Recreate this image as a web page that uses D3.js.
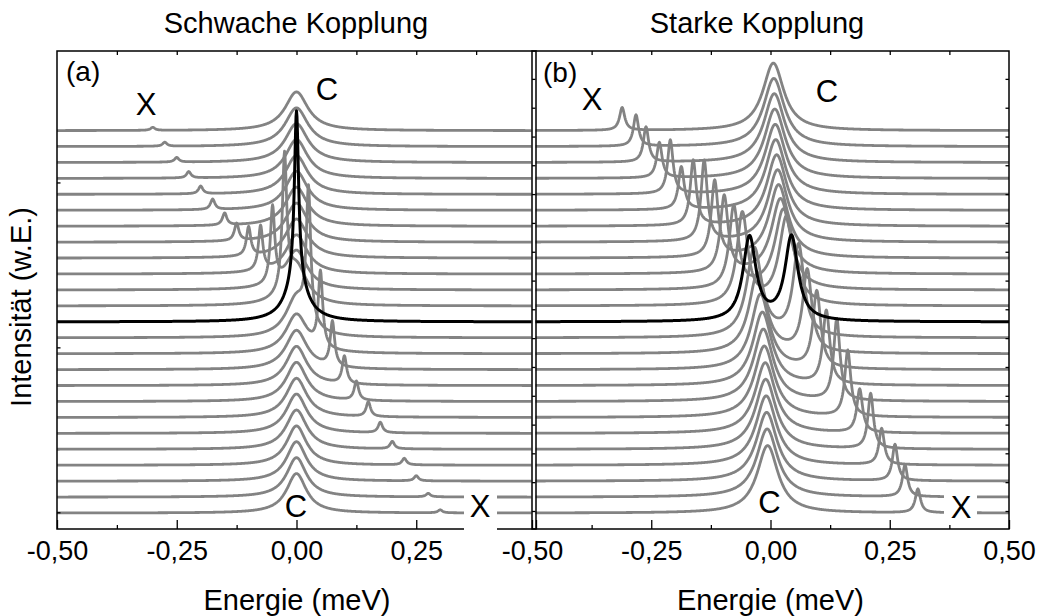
<!DOCTYPE html>
<html><head><meta charset="utf-8">
<script src="https://cdn.jsdelivr.net/npm/d3@7"></script>
<style>
body{margin:0;background:#fff}
svg{display:block}
text{font-family:Arial,"Liberation Sans",sans-serif;fill:#000}
</style>
</head><body>
<svg id="c" width="1041" height="616"></svg>
<script>
// ---------------- data ----------------
const energyMajor = [-0.5, -0.25, 0, 0.25, 0.5];
const energyMinor = [-0.375, -0.125, 0.125, 0.375];
const energyTop = [-0.375, -0.25, -0.125, 0, 0.125, 0.25, 0.375];
const tickLabelsA = ["-0,50", "-0,25", "0,00", "0,25", ""];
const tickLabelsB = ["-0,50", "-0,25", "0,00", "0,25", "0,50"];
const yTicksA = [0.05, 10.4, 20.75];
const yTicksB = [0.13, 1.94, 3.75, 5.55, 7.36, 9.17, 10.98, 12.79, 14.59, 16.4, 18.21, 20.02, 21.83, 23.63, 25.44, 27.25];

// spectra are listed from the top trace (index 0) to the bottom trace (index 24)
const blackIndex = 12;

// (a) weak coupling: exciton line X and cavity line C
const weakXPos = [-0.300,-0.275,-0.250,-0.225,-0.200,-0.175,-0.150,-0.125,-0.100,-0.075,-0.050,-0.025,0.000,0.025,0.050,0.075,0.100,0.125,0.150,0.175,0.200,0.225,0.250,0.275,0.300];
const weakXAmp = [0.19,0.25,0.29,0.40,0.48,0.65,0.76,1.09,1.82,2.80,4.80,8.40,10.80,8.30,4.70,2.80,1.72,1.19,0.92,0.65,0.46,0.41,0.32,0.22,0.19];
const weakXWidth = [0.0055,0.0055,0.0055,0.0055,0.0055,0.0055,0.0055,0.0055,0.0055,0.0055,0.0055,0.0055,0.0053,0.0055,0.0055,0.0055,0.0055,0.0055,0.0055,0.0055,0.0055,0.0055,0.0055,0.0055,0.0055];
const weakCPos = [0,0,0,0,0,0,0,0,0,0,0,0,0,0,0,0,0,0,0,0,0,0,0,0,0];
const weakCAmp = [2.43,2.43,2.44,2.44,2.44,2.45,2.45,2.45,2.45,2.45,2.45,2.45,2.45,2.45,2.45,2.46,2.46,2.46,2.46,2.47,2.47,2.47,2.48,2.48,2.48];
const weakCWidth = [0.029,0.029,0.029,0.028,0.028,0.028,0.028,0.028,0.028,0.027,0.027,0.027,0.027,0.027,0.027,0.027,0.026,0.026,0.026,0.026,0.026,0.025,0.025,0.025,0.025];

// (b) strong coupling: lower (LP) and upper (UP) polariton, peak heights
const strongLPPos = [-0.311,-0.282,-0.261,-0.233,-0.210,-0.187,-0.162,-0.139,-0.117,-0.097,-0.077,-0.059,-0.044,-0.034,-0.027,-0.021,-0.017,-0.015,-0.013,-0.011,-0.010,-0.009,-0.008,-0.007,-0.006];
const strongLPHeight = [1.46,2.00,2.25,2.28,3.43,2.76,4.17,5.17,4.92,4.98,5.35,5.93,5.43,5.70,5.10,4.75,4.62,4.55,4.49,4.44,4.40,4.36,4.32,4.28,4.24];
const strongLPWidth = [0.0065,0.0065,0.0066,0.0068,0.0069,0.0072,0.0075,0.0079,0.0087,0.0098,0.0114,0.0137,0.0165,0.0193,0.0216,0.0232,0.0243,0.0250,0.0255,0.0258,0.0261,0.0262,0.0264,0.0265,0.0266];
const strongUPPos = [0.006,0.007,0.008,0.009,0.010,0.011,0.013,0.015,0.017,0.021,0.027,0.034,0.044,0.059,0.077,0.097,0.117,0.139,0.162,0.187,0.210,0.233,0.261,0.282,0.309];
const strongUPHeight = [4.24,4.28,4.32,4.36,4.40,4.44,4.49,4.55,4.62,4.75,5.10,5.70,5.46,5.93,5.35,4.98,4.75,5.22,4.24,2.80,3.52,2.32,2.32,2.03,1.52];
const strongUPWidth = [0.0266,0.0265,0.0264,0.0262,0.0261,0.0258,0.0255,0.0250,0.0243,0.0232,0.0216,0.0193,0.0165,0.0137,0.0114,0.0098,0.0087,0.0079,0.0075,0.0072,0.0069,0.0068,0.0066,0.0065,0.0065];

// ---------------- drawing ----------------
const svg = d3.select("#c");
const plotTop = 51, plotBottom = 529;
const y = d3.scaleLinear().domain([-1, 29]).range([plotBottom, plotTop]);
const xA = d3.scaleLinear().domain([-0.5, 0.5]).range([57, 536]);
const xB = d3.scaleLinear().domain([-0.5, 0.5]).range([532, 1009]);

const lor = (e, p, w) => (w * w) / ((e - p) * (e - p) + w * w);

function buildSpectrum(peaks) {
  const grid = d3.range(-0.5, 0.50001, 0.001).concat(peaks.map(p => p.p)).sort((a, b) => a - b);
  return grid.map(e => [e, d3.sum(peaks, p => p.a * lor(e, p.p, p.w))]);
}

const defs = svg.append("defs");
defs.append("clipPath").attr("id", "clipA").append("rect")
  .attr("x", 57).attr("y", plotTop).attr("width", 531.5 - 57).attr("height", plotBottom - plotTop);
defs.append("clipPath").attr("id", "clipB").append("rect")
  .attr("x", 535.5).attr("y", plotTop).attr("width", 1009 - 535.5).attr("height", plotBottom - plotTop);

function drawPanel(xs, clipId, spectra) {
  const g = svg.append("g").attr("clip-path", `url(#${clipId})`);
  const order = d3.range(spectra.length).filter(i => i !== blackIndex).concat([blackIndex]);
  order.forEach(i => {
    const off = spectra.length - 1 - i;
    const line = d3.line().x(d => xs(d[0])).y(d => y(off + d[1]));
    g.append("path")
      .attr("d", line(spectra[i]))
      .attr("fill", "none")
      .attr("stroke", i === blackIndex ? "#000" : "#838383")
      .attr("stroke-width", i === blackIndex ? 3 : 2.8)
      .attr("stroke-linejoin", "round");
  });
}

const weakSpectra = weakXPos.map((p, i) => buildSpectrum([
  { p: p, a: weakXAmp[i], w: weakXWidth[i] },
  { p: weakCPos[i], a: weakCAmp[i], w: weakCWidth[i] }
]));

const strongSpectra = strongLPPos.map((p1, i) => {
  const p2 = strongUPPos[i], w1 = strongLPWidth[i], w2 = strongUPWidth[i];
  const h1 = strongLPHeight[i], h2 = strongUPHeight[i];
  const a12 = lor(p1, p2, w2), a21 = lor(p2, p1, w1);
  const det = 1 - a12 * a21;
  const A1 = (h1 - a12 * h2) / det, A2 = (h2 - a21 * h1) / det;
  return buildSpectrum([{ p: p1, a: A1, w: w1 }, { p: p2, a: A2, w: w2 }]);
});

drawPanel(xA, "clipA", weakSpectra);
drawPanel(xB, "clipB", strongSpectra);

function frame(xs) {
  svg.append("rect").attr("x", xs.range()[0]).attr("y", plotTop)
    .attr("width", xs.range()[1] - xs.range()[0]).attr("height", plotBottom - plotTop)
    .attr("fill", "none").attr("stroke", "#000").attr("stroke-width", 1.5);
}
frame(xA);
frame(xB);

function axes(xs, labels, yTicks, rightTicks) {
  const major = svg.append("g").attr("transform", `translate(0,${plotBottom})`)
    .call(d3.axisBottom(xs).tickValues(energyMajor).tickSizeInner(-9).tickSizeOuter(0)
      .tickPadding(12).tickFormat((d, i) => labels[i]));
  const minor = svg.append("g").attr("transform", `translate(0,${plotBottom})`)
    .call(d3.axisBottom(xs).tickValues(energyMinor).tickSizeInner(-4).tickSizeOuter(0).tickFormat(""));
  const topAx = svg.append("g").attr("transform", `translate(0,${plotTop})`)
    .call(d3.axisTop(xs).tickValues(energyTop).tickSizeInner(-4).tickSizeOuter(0).tickFormat(""));
  const yl = svg.append("g").attr("transform", `translate(${xs.range()[0]},0)`)
    .call(d3.axisLeft(y).tickValues(yTicks).tickSizeInner(-3.5).tickSizeOuter(0).tickFormat(""));
  const groups = [major, minor, topAx, yl];
  if (rightTicks) {
    groups.push(svg.append("g").attr("transform", `translate(${xs.range()[1]},0)`)
      .call(d3.axisRight(y).tickValues(yTicks).tickSizeInner(-3.5).tickSizeOuter(0).tickFormat("")));
  }
  groups.forEach(gg => {
    gg.select(".domain").remove();
    gg.selectAll("line").attr("stroke", "#000").attr("stroke-width", 1.3);
    gg.selectAll("text").attr("font-size", 27).attr("font-family", "Arial, 'Liberation Sans', sans-serif").attr("fill", "#000");
  });
}
axes(xA, tickLabelsA, yTicksA, false);
axes(xB, tickLabelsB, yTicksB, true);

svg.append("rect").attr("x", 464).attr("y", 487).attr("width", 33).attr("height", 47).attr("fill", "#fff");
svg.append("rect").attr("x", 944).attr("y", 488).attr("width", 33).attr("height", 34).attr("fill", "#fff");

function label(txt, x, yy, size, anchor) {
  svg.append("text").attr("x", x).attr("y", yy).attr("font-size", size)
    .attr("text-anchor", anchor || "middle").text(txt);
}
label("Schwache Kopplung", 296, 33, 29);
label("Starke Kopplung", 757, 33, 29);
label("Energie (meV)", 297, 610, 29);
label("Energie (meV)", 770.5, 610, 29);
svg.append("text").attr("transform", "translate(31,307) rotate(-90)")
  .attr("font-size", 29).attr("text-anchor", "middle").text("Intensität (w.E.)");
label("(a)", 66, 81, 28, "start");
label("(b)", 543, 82, 28, "start");
label("X", 146, 115, 31);
label("C", 327, 100, 31);
label("C", 296, 517, 31);
label("X", 480, 517, 31);
label("X", 592, 110, 31);
label("C", 827, 102, 31);
label("C", 769.5, 513, 31);
label("X", 961, 518, 31);
</script>
</body></html>
